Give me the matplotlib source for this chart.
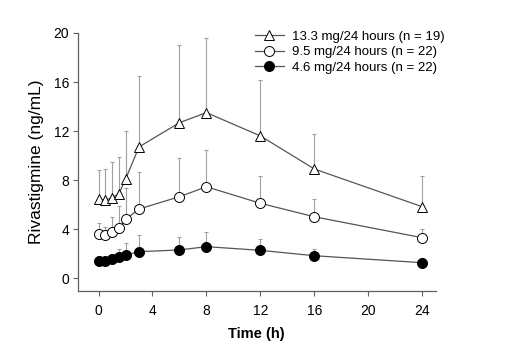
import matplotlib
matplotlib.use("Agg")
import matplotlib.pyplot as plt
import numpy as np

plt.rcParams['font.family'] = ['Liberation Sans', 'DejaVu Sans']

time_h = [0, 0.5, 1, 1.5, 2, 3, 6, 8, 12, 16, 24]
high_mean = [6.42, 6.37, 6.55, 6.86, 8.06, 10.7, 12.68, 13.5, 11.6, 8.9, 5.82]
high_top = [8.82, 8.87, 9.5, 9.9, 12.0, 16.5, 19.0, 19.6, 16.2, 11.75, 8.35]
mid_mean = [3.56, 3.48, 3.73, 4.06, 4.79, 5.63, 6.64, 7.45, 6.1, 5.0, 3.29]
mid_top = [4.47, 4.19, 4.95, 5.88, 7.32, 8.63, 9.77, 10.45, 8.35, 6.45, 4.0]
low_mean = [1.41, 1.39, 1.53, 1.74, 1.88, 2.15, 2.29, 2.56, 2.26, 1.82, 1.25]
low_top = [1.8, 1.75, 1.95, 2.38, 2.85, 3.51, 3.37, 3.73, 3.16, 2.37, 1.6]

labels = ["13.3 mg/24 hours (n = 19)", "9.5 mg/24 hours (n = 22)", "4.6 mg/24 hours (n = 22)"]
x_ticks = [0, 4, 8, 12, 16, 20, 24]
y_ticks = [0, 4, 8, 12, 16, 20]

fig = plt.figure(figsize=(5.17, 3.5), dpi=100)
ax = fig.add_axes([77.5/517, (350-291)/350, (435.7-77.5)/517, (291-33)/350])

series = [
    (high_mean, high_top, '^', 'white', 7.8),
    (mid_mean, mid_top, 'o', 'white', 7.2),
    (low_mean, low_top, 'o', 'black', 7.2),
]
handles = []
for (m, top, mk, fc, ms), lab in zip(series, labels):
    t = np.array(time_h)
    m_arr = np.array(m)
    err = np.array(top) - m_arr
    ax.errorbar(t, m_arr, yerr=[np.zeros_like(err), err], fmt='none',
                ecolor='#a0a0a0', elinewidth=0.8, capsize=1.5, capthick=0.8, zorder=1)
    h, = ax.plot(t, m_arr, color='#555555', lw=0.9, marker=mk, ms=ms,
                 mfc=fc, mec='black', mew=0.7, label=lab, zorder=3)
    handles.append(h)

ax.set_xlim(-1.56, 25.0)
ax.set_ylim(-1.06, 20)
ax.set_xticks(x_ticks)
ax.set_yticks(y_ticks)
for s in ['top', 'right']:
    ax.spines[s].set_visible(False)
for s in ['left', 'bottom']:
    ax.spines[s].set_color('#606060')
    ax.spines[s].set_linewidth(0.9)
ax.tick_params(direction='out', length=3.5, width=0.8, color='#606060',
               labelsize=10)
ax.tick_params(axis='x', pad=6)
ax.tick_params(axis='y', pad=2.5)
ax.set_xlabel("Time (h)", fontsize=10.5, fontweight='bold', labelpad=6)
ax.set_ylabel("Rivastigmine (ng/mL)", fontsize=12.5, labelpad=7)

leg = ax.legend(handles=handles, loc='upper left', bbox_to_anchor=(0.48, 1.03),
                frameon=False, fontsize=9.5, handlelength=2.2, handletextpad=0.6,
                labelspacing=0.25, borderaxespad=0)

fig.savefig("out.png", dpi=100)
